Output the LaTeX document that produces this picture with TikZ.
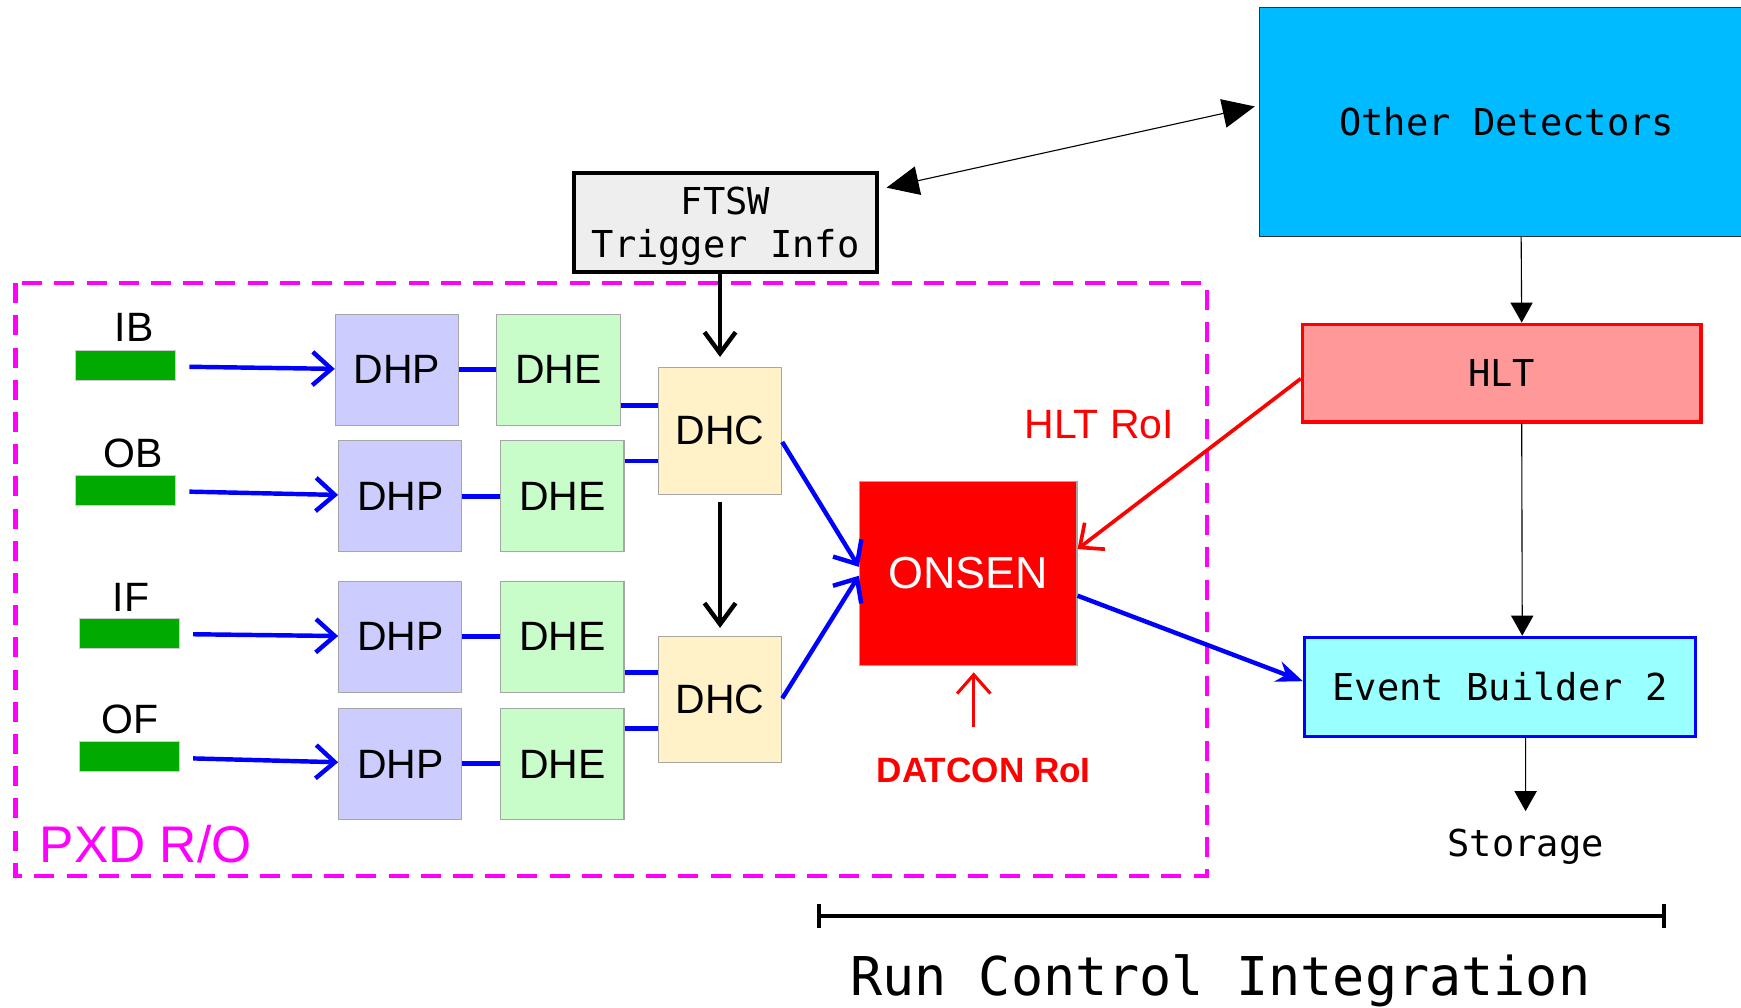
\documentclass[tikz,border=0pt]{standalone}
\usepackage{fontspec}
\setmainfont{Liberation Sans}
\newfontfamily\monofont{DejaVu Sans Mono}
\usetikzlibrary{arrows.meta}

\definecolor{dhpfill}{HTML}{CCCCFF}
\definecolor{dhefill}{HTML}{C8FCC8}
\definecolor{dhcfill}{HTML}{FFF2C8}
\definecolor{sensorgreen}{HTML}{00AA00}
\definecolor{detfill}{HTML}{00BBFF}
\definecolor{hltfill}{HTML}{FF9999}
\definecolor{ebfill}{HTML}{99FFFF}
\definecolor{ftswfill}{HTML}{EEEEEE}
\definecolor{pxdframe}{HTML}{FF00FF}

\begin{document}
\begin{tikzpicture}[x=0.1mm,y=-0.1mm,
  every node/.style={font=\fontsize{10.5}{12}\selectfont,inner sep=0pt},
  block/.style={draw=gray!70,line width=0.1mm,minimum width=11.1mm,minimum height=10mm},
  dhpbox/.style={block,fill=dhpfill},
  dhebox/.style={block,fill=dhefill},
  dhcbox/.style={block,fill=dhcfill,minimum height=11.4mm},
  sensor/.style={fill=sensorgreen,draw=gray!40,line width=0.1mm,minimum width=9mm,minimum height=2.7mm},
  mono/.style={font=\monofont\fontsize{9.5}{11}\selectfont},
  sig/.style={blue,line width=0.4mm},
  sigarrow/.style={sig,-{Straight Barb[length=1.7mm,width=3mm]}},
  trig/.style={black,line width=0.4mm,-{Straight Barb[length=1.9mm,width=2.8mm]}},
  flow/.style={black,line width=0.1mm,-{Triangle[length=1.8mm,width=2mm]}},
  roiarrow/.style={red,line width=0.33mm,-{Straight Barb[length=1.7mm,width=3mm]}}]
  \useasboundingbox (0,0) rectangle (1568,907);

  % PXD readout frame
  \draw[pxdframe,line width=0.42mm,dash pattern=on 1.8mm off 1.1mm] (14,255) rectangle (1087,789);
  \node[anchor=base west,text=pxdframe,font=\fontsize{13.2}{15}\selectfont] (pxd) at (35,777) {PXD R/O};

  % sensor halves
  \node[sensor] (ib) at (113,329.5) {};
  \node[sensor] (ob) at (113,441.5) {};
  \node[sensor] (if) at (116.5,570.5) {};
  \node[sensor] (of) at (116.5,681.5) {};
  \node (iblabel) at (121,295) {IB};
  \node (oblabel) at (120,408) {OB};
  \node (iflabel) at (118,538) {IF};
  \node (oflabel) at (117,648) {OF};

  \node[dhpbox] (dhp1) at (357.5,333) {DHP};
  \node[dhpbox] (dhp2) at (360.5,447) {DHP};
  \node[dhpbox] (dhp3) at (360.5,573.5) {DHP};
  \node[dhpbox] (dhp4) at (360.5,688) {DHP};
  \node[dhebox] (dhe1) at (503,333) {DHE};
  \node[dhebox] (dhe2) at (506.5,447) {DHE};
  \node[dhebox] (dhe3) at (506.5,573.5) {DHE};
  \node[dhebox] (dhe4) at (506.5,688) {DHE};
  \node[dhcbox] (dhc1) at (648.5,388) {DHC};
  \node[dhcbox] (dhc2) at (648.5,630) {DHC};

  \node[fill=red,draw=gray!70,line width=0.1mm,minimum width=19.6mm,minimum height=16.5mm,
    text=white,font=\fontsize{11.5}{13}\selectfont] (onsen) at (872,516.5) {ONSEN};
  \node[red] (hltroi) at (990,382) {HLT RoI};
  \node[red,font=\bfseries\fontsize{9}{11}\selectfont] (datcon) at (886,694) {DATCON RoI};
  \coordinate (datcontail) at (877,655);

  % trigger and back end
  \node[mono,draw,line width=0.32mm,fill=ftswfill,minimum width=27.3mm,minimum height=8.9mm,
    align=center,text depth=0pt] (ftsw) at (653.5,200.5) {FTSW\\Trigger Info};
  \node[mono,draw=black!80,line width=0.1mm,fill=detfill,minimum width=44.5mm,minimum height=20.6mm]
    (other) at (1357,110) {Other Detectors};
  \node[mono,draw=red,line width=0.3mm,fill=hltfill,minimum width=35.9mm,minimum height=8.8mm]
    (hlt) at (1352.5,336) {HLT};
  \node[mono,draw=blue,line width=0.3mm,fill=ebfill,minimum width=35.2mm,minimum height=8.9mm]
    (eb) at (1351,618.5) {Event Builder 2};
  \node[mono,anchor=base] (storage) at (1374,771) {Storage};

  % sensor to DHP to DHE
  \foreach \s/\p in {ib/dhp1,ob/dhp2,if/dhp3,of/dhp4}
    \draw[sigarrow,shorten <=1.2mm] (\s) -- (\p);
  \foreach \p/\e in {dhp1/dhe1,dhp2/dhe2,dhp3/dhe3,dhp4/dhe4}
    \draw[sig,line width=0.45mm] (\p) -- (\e);
  % DHE to DHC
  \draw[sig] ([yshift=-3.2mm]dhe1.east) -- ([yshift=-3.2mm]dhe1.east -| dhc1.west);
  \draw[sig] ([yshift=3.2mm]dhe2.east) -- ([yshift=3.2mm]dhe2.east -| dhc1.west);
  \draw[sig] ([yshift=-3.2mm]dhe3.east) -- ([yshift=-3.2mm]dhe3.east -| dhc2.west);
  \draw[sig] ([yshift=3.2mm]dhe4.east) -- ([yshift=3.2mm]dhe4.east -| dhc2.west);
  % DHC to ONSEN
  \draw[sigarrow] ([yshift=-1mm]dhc1.east) -- ([yshift=0.6mm]onsen.west);
  \draw[sigarrow] ([yshift=0.1mm]dhc2.east) -- ([yshift=-0.2mm]onsen.west);

  % trigger distribution
  \draw[trig,shorten >=0.9mm] (ftsw.south -| dhc1) -- (dhc1);
  \draw[trig,shorten <=0.7mm,shorten >=0.7mm] (dhc1) -- (dhc2);
  \draw[black,line width=0.1mm,{Triangle[length=2.9mm,width=2.6mm]}-{Triangle[length=2.9mm,width=2.6mm]},
    shorten <=0.7mm,shorten >=0.4mm] ([yshift=3mm]ftsw.east) -- ([yshift=1.5mm]other.west);

  % RoIs
  \draw[roiarrow] ([yshift=-0.5mm]hlt.west) -- ([yshift=2.2mm]onsen.east);
  \draw[roiarrow,line width=0.28mm,shorten >=0.6mm] (datcontail) -- (datcontail |- onsen.south);

  % output
  \draw[sig,-{Stealth[length=2.4mm,width=1.9mm]}] ([yshift=-2mm]onsen.east) -- ([yshift=0.5mm]eb.west);
  \draw[flow] ([xshift=1.3mm]other.south) -- ([xshift=1.8mm]hlt.north);
  \draw[flow] ([xshift=1.8mm]hlt.south) -- ([xshift=2mm]eb.north);
  \draw[flow,shorten >=1.5mm] ([xshift=2.3mm]eb.south) -- (storage.north);

  % run control range
  \coordinate (rcleft) at (736,825);
  \coordinate (rcright) at (1500,825);
  \draw[line width=0.3mm,{Bar[width=2.2mm]}-{Bar[width=2.2mm]}] (rcleft) -- (rcright);
  \node[anchor=base,font=\monofont\fontsize{13.7}{15}\selectfont] (rclabel) at (1099,897) {Run Control Integration};
\end{tikzpicture}
\end{document}
